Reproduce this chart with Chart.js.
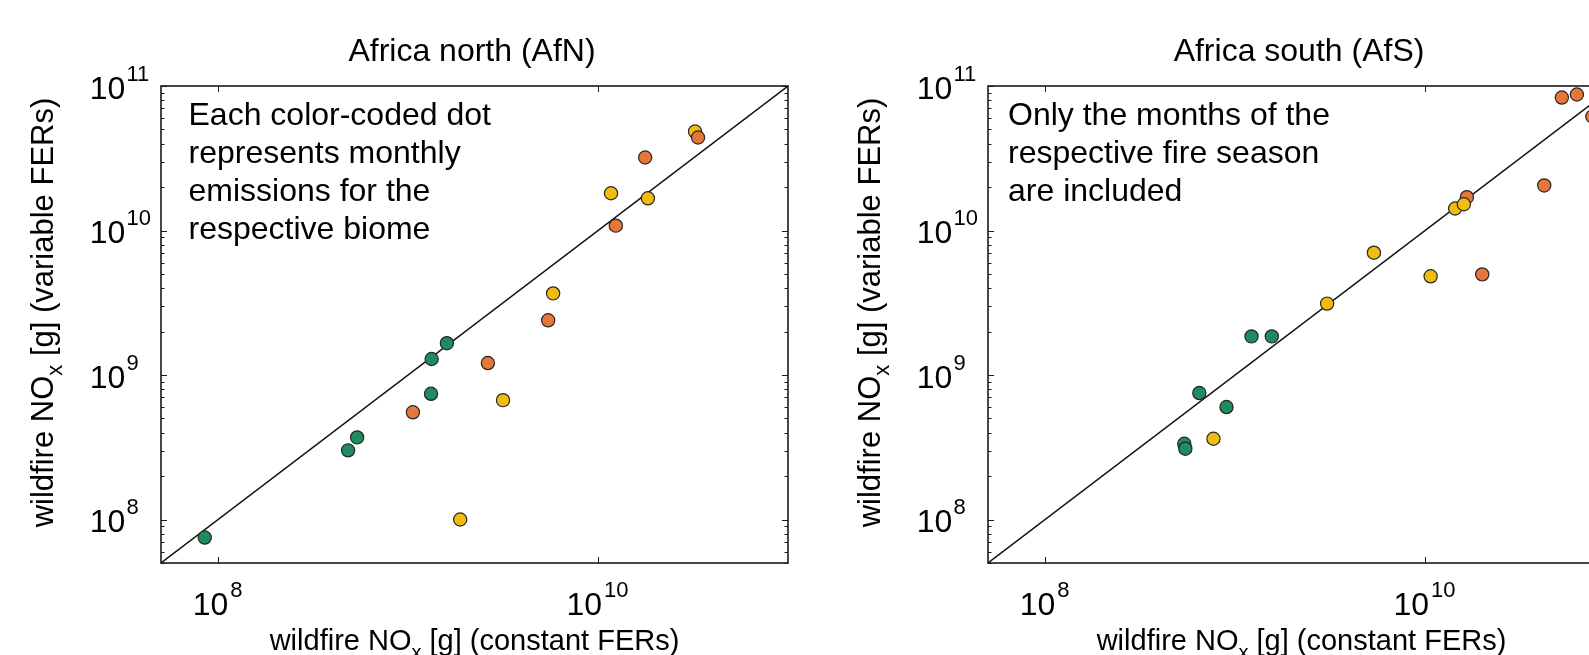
<!DOCTYPE html>
<html><head><meta charset="utf-8">
<script src="https://cdn.jsdelivr.net/npm/chart.js@4"></script>
<style>
html,body{margin:0;padding:0;width:1589px;height:655px;overflow:hidden;background:#fff;}
canvas{position:absolute;top:0;}
#cN{left:0;} #cS{left:800px;}
</style></head><body>
<canvas id="cN" width="800" height="655"></canvas>
<canvas id="cS" width="840" height="655"></canvas>
<script>
// ---- data ----
const axisMin = 5e7, axisMax = 1e11;
const oneToOne = [5e7, 1e11];
const xTickExponents = [8, 10];
const yTickExponents = [8, 9, 10, 11];
const minorMultipliers = [2, 3, 4, 5, 6, 7, 8, 9];

const biomeColor = { G: '#1f8c5f', O: '#e5773b', Y: '#f0bd0c' };

// Africa north (AfN)
const afnBiome = ['G','G','G','O','G','G','G','O','Y','Y','O','Y','O','Y','Y','O','Y','O'];
const afnConst = [8.5e7, 4.83e8, 5.39e8, 1.06e9, 1.32e9, 1.33e9, 1.60e9, 2.63e9, 3.16e9, 1.88e9, 5.46e9, 5.80e9, 1.24e10, 1.17e10, 1.83e10, 1.77e10, 3.24e10, 3.36e10];
const afnVar   = [7.5e7, 3.01e8, 3.70e8, 5.52e8, 7.41e8, 1.29e9, 1.66e9, 1.21e9, 6.70e8, 1.00e8, 2.39e9, 3.67e9, 1.08e10, 1.81e10, 1.67e10, 3.20e10, 4.84e10, 4.40e10];

// Africa south (AfS)
const afsBiome = ['G','G','Y','G','G','G','G','Y','Y','Y','O','O','Y','Y','O','O','O','O'];
const afsConst = [5.40e8, 5.47e8, 7.69e8, 6.48e8, 9.01e8, 1.22e9, 1.56e9, 3.05e9, 5.38e9, 1.07e10, 2.00e10, 1.66e10, 1.44e10, 1.60e10, 4.24e10, 5.25e10, 6.30e10, 7.60e10];
const afsVar   = [3.34e8, 3.09e8, 3.62e8, 7.50e8, 6.00e8, 1.85e9, 1.85e9, 3.12e9, 7.02e9, 4.82e9, 4.97e9, 1.70e10, 1.42e10, 1.52e10, 2.05e10, 8.32e10, 8.73e10, 6.15e10];

const afnNote = ['Each color-coded dot', 'represents monthly', 'emissions for the', 'respective biome'];
const afsNote = ['Only the months of the', 'respective fire season', 'are included'];

// ---- drawing ----
const FONT = '"Liberation Sans", Arial, Helvetica, sans-serif';

function drawNOx(ctx, pre, post, cx, by, size) {
  const big = size + 'px ' + FONT, small = Math.round(size * 0.7) + 'px ' + FONT;
  ctx.font = big; const w1 = ctx.measureText(pre).width; const w3 = ctx.measureText(post).width;
  ctx.font = small; const w2 = ctx.measureText('x').width;
  const sx = cx - (w1 + w2 + w3) / 2;
  ctx.textAlign = 'left';
  ctx.font = big; ctx.fillText(pre, sx, by);
  ctx.font = small; ctx.fillText('x', sx + w1, by + 9);
  ctx.font = big; ctx.fillText(post, sx + w1 + w2, by);
}

function makeDeco(title, note, noteDx) {
  return {
    id: 'deco',
    afterDraw(chart) {
      const { ctx, chartArea: a, scales: { x, y } } = chart;
      ctx.save();
      // ticks (inward)
      ctx.strokeStyle = '#1a1a1a';
      ctx.lineWidth = 1;
      ctx.beginPath();
      for (const e of xTickExponents) {
        const px = Math.round(x.getPixelForValue(Math.pow(10, e))) + 0.5;
        ctx.moveTo(px, a.bottom); ctx.lineTo(px, a.bottom - 6);
        ctx.moveTo(px, a.top); ctx.lineTo(px, a.top + 6);
      }
      for (const e of [7, 8, 9, 10, 11]) {
        for (const m of [1].concat(minorMultipliers)) {
          const v = m * Math.pow(10, e);
          if (v < axisMin * 0.999 || v > axisMax * 1.001) continue;
          const len = m === 1 ? 6 : 3.5;
          const py = Math.round(y.getPixelForValue(v)) + 0.5;
          ctx.moveTo(a.left, py); ctx.lineTo(a.left + len, py);
          ctx.moveTo(a.right, py); ctx.lineTo(a.right - len, py);
        }
      }
      ctx.stroke();
      // frame
      ctx.lineWidth = 1.6;
      ctx.strokeStyle = '#1a1a1a';
      ctx.strokeRect(a.left, a.top, a.right - a.left, a.bottom - a.top);

      ctx.fillStyle = '#000';
      ctx.textBaseline = 'alphabetic';
      const base = '32px ' + FONT, sup = '22px ' + FONT;
      // y tick labels
      for (const e of yTickExponents) {
        const py = y.getPixelForValue(Math.pow(10, e));
        ctx.textAlign = 'left';
        ctx.font = base;
        const bx = a.left - 71.2, by = py + 12.5;
        ctx.fillText('10', bx, by);
        const w = ctx.measureText('10').width;
        ctx.font = sup;
        ctx.fillText(String(e), bx + w + 1, by - 18);
      }
      // x tick labels
      for (const e of xTickExponents) {
        const px = x.getPixelForValue(Math.pow(10, e));
        ctx.font = base; const w1 = ctx.measureText('10').width;
        ctx.font = sup; const w2 = ctx.measureText(String(e)).width;
        const sx = px - 0.5 - (w1 + 2 + w2) / 2;
        const by = a.bottom + 51.5;
        ctx.textAlign = 'left';
        ctx.font = base; ctx.fillText('10', sx, by);
        ctx.font = sup; ctx.fillText(String(e), sx + w1 + 2, by - 18);
      }
      const cx = (a.left + a.right) / 2, cy = (a.top + a.bottom) / 2;
      // x axis title
      drawNOx(ctx, 'wildfire NO', ' [g] (constant FERs)', cx, a.bottom + 87, 29);
      // y axis title
      ctx.save();
      ctx.translate(a.left - 108, cy - 12);
      ctx.rotate(-Math.PI / 2);
      drawNOx(ctx, 'wildfire NO', ' [g] (variable FERs)', 0, 0, 31);
      ctx.restore();
      // panel title
      ctx.font = '32px ' + FONT;
      ctx.textAlign = 'center';
      ctx.fillText(title, cx - 2.5, 61);
      // annotation
      ctx.font = '32px ' + FONT;
      ctx.textAlign = 'left';
      note.forEach((line, i) => ctx.fillText(line, a.left + noteDx, a.top + 38.5 + 38 * i));
      ctx.restore();
    }
  };
}

function makePanel(id, title, xs, ys, biomes, note, noteDx, pad) {
  const pts = xs.map((v, i) => ({ x: v, y: ys[i] }));
  new Chart(document.getElementById(id), {
    type: 'scatter',
    data: {
      datasets: [
        { data: oneToOne.map(v => ({ x: v, y: v })), showLine: true, borderColor: '#111', borderWidth: 1.4,
          pointRadius: 0, fill: false, order: 2 },
        { data: pts, pointBackgroundColor: biomes.map(b => biomeColor[b]), pointBorderColor: '#262626',
          pointBorderWidth: 1.2, pointRadius: 6.6, order: 1 }
      ]
    },
    options: {
      responsive: false, animation: false, devicePixelRatio: 1,
      layout: { padding: pad },
      plugins: { legend: { display: false }, tooltip: { enabled: false }, title: { display: false } },
      scales: {
        x: { type: 'logarithmic', min: axisMin, max: axisMax, display: false },
        y: { type: 'logarithmic', min: axisMin, max: axisMax, display: false }
      }
    },
    plugins: [makeDeco(title, note, noteDx)]
  });
}

makePanel('cN', 'Africa north (AfN)', afnConst, afnVar, afnBiome, afnNote, 27.5,
  { left: 161, right: 12, top: 86, bottom: 92 });
makePanel('cS', 'Africa south (AfS)', afsConst, afsVar, afsBiome, afsNote, 20,
  { left: 188, right: 25, top: 86, bottom: 92 });
</script>
</body></html>
